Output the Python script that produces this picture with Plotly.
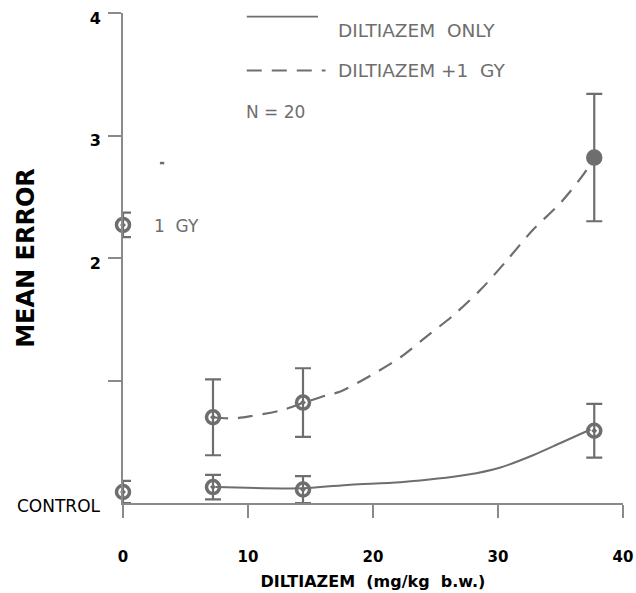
import plotly.graph_objects as go

# ---- data ----
dose = [7.2, 14.4, 37.7]
mean_dil_only = [0.13, 0.11, 0.59]
err_dil_only = [0.10, 0.11, 0.22]
mean_dil_gy = [0.70, 0.82, 2.82]
err_dil_gy = [0.31, 0.28, 0.52]

control_dose = [0]
control_mean = [0.09]
control_err = [0.09]

gy_dose = [0]
gy_mean = [2.27]
gy_err = [0.10]

# fitted curves
curve_only_x = [7.4, 14.4, 18.2, 22.2, 27.5, 30.2, 32.8, 35.0, 37.4]
curve_only_y = [0.13, 0.12, 0.15, 0.17, 0.23, 0.29, 0.39, 0.49, 0.60]
curve_gy_x = [7.2, 8.8, 10.3, 12.8, 14.5, 16.3, 17.4, 19.8, 22.2, 24.3,
              26.4, 28.6, 30.7, 32.8, 35.0, 37.1, 37.6]
curve_gy_y = [0.70, 0.69, 0.71, 0.76, 0.82, 0.88, 0.91, 1.04, 1.19, 1.36,
              1.53, 1.74, 1.98, 2.23, 2.45, 2.72, 2.82]

x_ticks = [0, 10, 20, 30, 40]
y_ticks = [1, 2, 3, 4]
y_ticktext = ["", "<b>2</b>", "<b>3</b>", "<b>4</b>"]

GRAY = "#6e6e6e"
AXGRAY = "#8a8a8a"
FONT = "DejaVu Sans, Verdana, sans-serif"
NB = "\u00a0"

fig = go.Figure()

# curves
fig.add_trace(go.Scatter(x=curve_only_x, y=curve_only_y, mode="lines",
                         line=dict(color=GRAY, width=2, shape="spline", smoothing=0.8),
                         showlegend=False, hoverinfo="skip"))
fig.add_trace(go.Scatter(x=curve_gy_x, y=curve_gy_y, mode="lines",
                         line=dict(color=GRAY, width=2.2, shape="spline", smoothing=0.8,
                                   dash="15px,10px"),
                         showlegend=False, hoverinfo="skip"))

marker_open = dict(symbol="circle-open-dot", size=13, color=GRAY, line=dict(width=3.5, color=GRAY))
eb = lambda arr: dict(type="data", array=arr, visible=True, color=GRAY, thickness=2.2, width=8)

fig.add_trace(go.Scatter(x=dose, y=mean_dil_only, mode="markers", error_y=eb(err_dil_only),
                         marker=marker_open, showlegend=False, cliponaxis=False))
fig.add_trace(go.Scatter(x=dose, y=mean_dil_gy, mode="markers", error_y=eb(err_dil_gy),
                         marker=dict(symbol=["circle-open-dot", "circle-open-dot", "circle"],
                                     size=13, color=GRAY, line=dict(width=3.5, color=GRAY)),
                         showlegend=False, cliponaxis=False))
fig.add_trace(go.Scatter(x=control_dose, y=control_mean, mode="markers", error_y=eb(control_err),
                         marker=marker_open, showlegend=False, cliponaxis=False))
fig.add_trace(go.Scatter(x=gy_dose, y=gy_mean, mode="markers", error_y=eb(gy_err),
                         marker=marker_open, showlegend=False, cliponaxis=False))

# legend-like key drawn by hand
fig.add_shape(type="line", xref="x", yref="y", x0=9.9, x1=15.6, y0=3.97, y1=3.97,
              line=dict(color=GRAY, width=1.6))
fig.add_shape(type="line", xref="x", yref="y", x0=9.9, x1=16.2, y0=3.53, y1=3.53,
              line=dict(color=GRAY, width=2, dash="15px,10px"))
# small stray dash in the original
fig.add_shape(type="line", xref="x", yref="y", x0=2.95, x1=3.3, y0=2.775, y1=2.775,
              line=dict(color=GRAY, width=2.5))

def txt(x, y, s, size=17, color=GRAY, **kw):
    fig.add_annotation(x=x, y=y, xref="x", yref="y", text=s, showarrow=False,
                       xanchor="left", yanchor="middle",
                       font=dict(family=FONT, size=size, color=color), **kw)

txt(17.2, 3.86, f"DILTIAZEM{NB}{NB}ONLY", size=18.5, xshift=-2)
txt(17.2, 3.53, f"DILTIAZEM{NB}+1{NB}{NB}GY", size=18.5, xshift=-2)
txt(9.9, 3.19, f"N{NB}={NB}20", xshift=-3)
txt(2.55, 2.26, f"1{NB}{NB}GY", xshift=-3)

fig.add_annotation(x=0, y=0, xref="paper", yref="y", text="CONTROL", showarrow=False,
                   xanchor="right", yanchor="middle", xshift=-20, yshift=-3,
                   font=dict(family=FONT, size=17, color="black"))

fig.update_xaxes(range=[0, 40], tickvals=x_ticks, ticktext=[f"<b>{v}</b>" for v in x_ticks],
                 showline=True, linecolor=AXGRAY, linewidth=2, ticks="outside",
                 ticklen=13, tickwidth=2, tickcolor=AXGRAY, showgrid=False, zeroline=False,
                 ticklabelstandoff=26, automargin=False, ticklabeloverflow="allow",
                 tickfont=dict(family=FONT, size=15, color="black"),
                 title=dict(text="<b>DILTIAZEM  (mg/kg  b.w.)</b>", standoff=11,
                            font=dict(family=FONT, size=16, color="black")))
fig.update_yaxes(range=[0, 4], tickvals=y_ticks, ticktext=y_ticktext,
                 showline=True, linecolor=AXGRAY, linewidth=2, ticks="outside",
                 ticklen=13, tickwidth=1.5, tickcolor=AXGRAY, showgrid=False, zeroline=False,
                 ticklabelstandoff=4, ticklabelshift=5, automargin=False,
                 ticklabeloverflow="allow",
                 tickfont=dict(family=FONT, size=16, color="black"),
                 title=dict(text="<b>MEAN ERROR</b>", standoff=48,
                            font=dict(family=FONT, size=24, color="black")))

fig.update_layout(width=636, height=593, margin=dict(l=123, r=13, t=13, b=90),
                  plot_bgcolor="white", paper_bgcolor="white", showlegend=False)

# remove the browser's default 8px body margin so the figure fills the window exactly
fig.write_html("out.html", config={"displayModeBar": False},
               post_script="document.body.style.margin='0';")
